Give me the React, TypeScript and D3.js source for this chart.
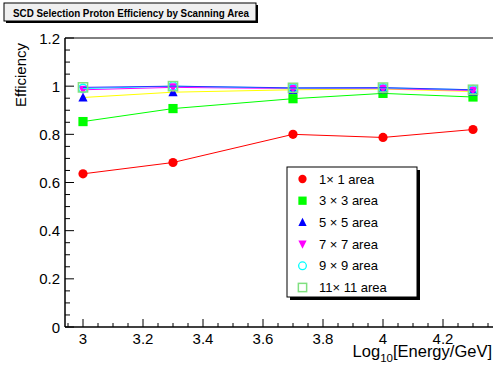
import React from "react";
import * as d3 from "d3";

const energies = [3.0, 3.3, 3.7, 4.0, 4.3];
const eff1x1 = [0.636, 0.683, 0.8, 0.787, 0.82];
const eff3x3 = [0.853, 0.907, 0.948, 0.97, 0.955];
const eff5x5 = [0.953, 0.975, 0.985, 0.988, 0.978];
const eff7x7 = [0.985, 0.995, 0.99, 0.99, 0.982];
const eff9x9 = [0.99, 1.0, 0.992, 0.993, 0.985];
const eff11x11 = [0.995, 1.0, 0.993, 0.994, 0.985];
const seriesLabels = ["1\u00d7 1 area", "3 \u00d7 3 area", "5 \u00d7 5 area", "7 \u00d7 7 area", "9 \u00d7 9 area", "11\u00d7 11 area"];
const xTicks = [3, 3.2, 3.4, 3.6, 3.8, 4, 4.2];
const yTicks = [0, 0.2, 0.4, 0.6, 0.8, 1, 1.2];
const title = "SCD Selection Proton Efficiency by Scanning Area";

type Marker = "circle" | "square" | "triUp" | "triDown" | "openCircle" | "openSquare";
const styles: { line: string; marker: string; shape: Marker }[] = [
  { line: "#ff0000", marker: "#ff0000", shape: "circle" },
  { line: "#00ff00", marker: "#00ff00", shape: "square" },
  { line: "#ffff00", marker: "#0000ff", shape: "triUp" },
  { line: "#ff00ff", marker: "#ff00ff", shape: "triDown" },
  { line: "#00ffff", marker: "#00ffff", shape: "openCircle" },
  { line: "#3333ff", marker: "#80e080", shape: "openSquare" },
];

const FONT = "'Liberation Sans', Arial, Helvetica, sans-serif";

function MarkerShape({ x, y, shape, color, s = 1 }: { x: number; y: number; shape: Marker; color: string; s?: number }) {
  const r = 4.6 * s;
  switch (shape) {
    case "circle":
      return <circle cx={x} cy={y} r={r} fill={color} />;
    case "square":
      return <rect x={x - r} y={y - r} width={2 * r} height={2 * r} fill={color} />;
    case "triUp":
      return <path d={`M${x},${y - r - 0.5} L${x + r},${y + r - 0.5} L${x - r},${y + r - 0.5} Z`} fill={color} />;
    case "triDown":
      return <path d={`M${x},${y + r + 0.5} L${x + r},${y - r + 0.5} L${x - r},${y - r + 0.5} Z`} fill={color} />;
    case "openCircle":
      return <circle cx={x} cy={y} r={r - 0.3} fill="none" stroke={color} strokeWidth={1.3} />;
    case "openSquare":
      return <rect x={x - r} y={y - r} width={2 * r} height={2 * r} fill="none" stroke={color} strokeWidth={1.5} />;
  }
}

export default function App() {
  const W = 493, H = 373;
  const left = 65, right = 494, top = 38, bottom = 327;
  const x = d3.scaleLinear().domain([2.94, 2.94 + (right - left) / 300]).range([left, right]);
  const y = d3.scaleLinear().domain([0, 1.2]).range([bottom, top]);
  const all = [eff1x1, eff3x3, eff5x5, eff7x7, eff9x9, eff11x11];
  const line = d3.line<number>().x((_, i) => x(energies[i])).y((d) => y(d));

  const xMinor = d3.range(2.95, 4.37, 0.05).filter((v) => Math.abs(v / 0.2 - Math.round(v / 0.2)) > 0.01);
  const yMinor = d3.range(0, 1.2001, 0.05).filter((v) => Math.abs(v / 0.2 - Math.round(v / 0.2)) > 0.01);

  const legX = 287, legY = 167, legW = 130, legH = 130;
  const rowY = (i: number) => 179 + i * 21.7;

  return (
    <svg width={W} height={H} style={{ position: "absolute", left: 0, top: 0, background: "#fff" }} fontFamily={FONT}>
      <rect x={0} y={0} width={W} height={H} fill="#fff" />
      {/* title box */}
      <rect x={6} y={5} width={252} height={18} fill="#000" />
      <rect x={4} y={3} width={252} height={18} fill="#f0f0f0" stroke="#000" strokeWidth={1} />
      <text x={131} y={16.5} fontSize={10.2} fontWeight="bold" textAnchor="middle" fill="#000" textLength={236} lengthAdjust="spacingAndGlyphs">{title}</text>

      {/* frame top */}
      <line x1={left} x2={W} y1={top} y2={top} stroke="#000" strokeWidth={1} />

      {/* series */}
      {all.map((vals, si) => (
        <g key={si}>
          <path d={line(vals) || ""} fill="none" stroke={styles[si].line} strokeWidth={1} />
          {vals.map((v, i) => (
            <MarkerShape key={i} x={x(energies[i])} y={y(v)} shape={styles[si].shape} color={styles[si].marker} />
          ))}
        </g>
      ))}

      {/* axes */}
      <line x1={left} x2={W} y1={bottom} y2={bottom} stroke="#000" strokeWidth={1.5} />
      <line x1={left} x2={left} y1={top} y2={bottom} stroke="#000" strokeWidth={1.5} />
      {xTicks.map((t) => (
        <g key={t}>
          <line x1={x(t)} x2={x(t)} y1={bottom} y2={bottom - 8} stroke="#000" strokeWidth={1} />
          <text x={x(t)} y={344} fontSize={15} textAnchor="middle">{t}</text>
        </g>
      ))}
      {xMinor.map((t, i) => (
        <line key={i} x1={x(t)} x2={x(t)} y1={bottom} y2={bottom - 4} stroke="#000" strokeWidth={1} />
      ))}
      {yTicks.map((t) => (
        <g key={t}>
          <line x1={left} x2={left + 9} y1={y(t)} y2={y(t)} stroke="#000" strokeWidth={1} />
          <text x={60} y={y(t) + 5.5} fontSize={15} textAnchor="end">{t}</text>
        </g>
      ))}
      {yMinor.map((t, i) => (
        <line key={i} x1={left} x2={left + 5} y1={y(t)} y2={y(t)} stroke="#000" strokeWidth={1} />
      ))}

      {/* axis titles */}
      <text transform="translate(26,43) rotate(-90)" fontSize={15} textAnchor="end">Efficiency</text>
      <text x={492} y={357} fontSize={16.5} textAnchor="end">
        Log<tspan fontSize={11.5} dy={5}>10</tspan><tspan dy={-5}>[Energy/GeV]</tspan>
      </text>

      {/* legend */}
      <rect x={legX + 3} y={legY + 3} width={legW} height={legH} fill="#000" />
      <rect x={legX} y={legY} width={legW} height={legH} fill="#fff" stroke="#000" strokeWidth={1} />
      {seriesLabels.map((lab, i) => (
        <g key={lab}>
          <MarkerShape x={302.5} y={rowY(i)} shape={styles[i].shape} color={styles[i].marker} s={0.9} />
          <text x={319} y={rowY(i) + 4.5} fontSize={13}>{lab}</text>
        </g>
      ))}
    </svg>
  );
}
